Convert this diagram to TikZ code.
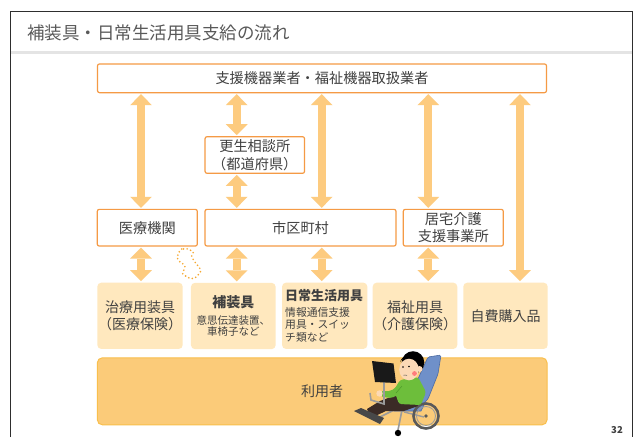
\documentclass[tikz,border=0pt]{standalone}
\usepackage{fontspec}
\setmainfont{Noto Sans CJK JP}
\usetikzlibrary{arrows.meta}

\definecolor{frameln}{HTML}{2E2E2E}
\definecolor{sepband}{HTML}{E4E4E4}
\definecolor{titletx}{HTML}{595959}
\definecolor{bodytx}{HTML}{404040}
\definecolor{orgline}{HTML}{F59A45}
\definecolor{arrowc}{HTML}{FDCB7F}
\definecolor{itemfill}{HTML}{FFE8BE}
\definecolor{userfill}{HTML}{FBCB79}
\definecolor{userline}{HTML}{F9BF4C}
\definecolor{squigc}{HTML}{F6A830}
% illustration colours
\definecolor{chairblue}{HTML}{6F90C9}
\definecolor{chairedge}{HTML}{4C6BA3}
\definecolor{shirt}{HTML}{6DBE3B}
\definecolor{shirtdark}{HTML}{4E9A2A}
\definecolor{skin}{HTML}{FCD9B6}
\definecolor{pants}{HTML}{3B2B26}
\definecolor{metal}{HTML}{9B9B9B}
\definecolor{tyre}{HTML}{5A5A5A}

\tikzset{
  orgbox/.style={draw=orgline, line width=1.2pt, fill=white, rounded corners=2pt,
    inner sep=0pt, outer sep=0pt, text=bodytx, align=center,
    font=\fontsize{14.2}{17.5}\selectfont},
  itembox/.style={fill=itemfill, rounded corners=4pt, inner sep=0pt, outer sep=0pt,
    text=bodytx, align=center, font=\fontsize{14}{16.5}\selectfont,
    minimum height=66.3pt},
  userbox/.style={draw=userline, line width=1pt, fill=userfill, rounded corners=5pt,
    inner sep=0pt, outer sep=0pt, text=bodytx, font=\fontsize{14}{17}\selectfont},
  dbl/.style={draw=arrowc, line width=7.7pt,
    {Triangle[width=21.7pt,length=11pt,line width=0pt]}-{Triangle[width=21.7pt,length=11pt,line width=0pt]},
    shorten <=1.5pt, shorten >=1.5pt},
  squig/.style={draw=squigc, line width=1.8pt, dash pattern=on 0pt off 3.7pt,
    line cap=round},
}

\begin{document}
\begin{tikzpicture}[x=1pt,y=-1pt]
\useasboundingbox (0,0) rectangle (635,437);
\fill[white] (0,0) rectangle (635,437);

% slide frame and title
\fill[sepband] (11,50.5) rectangle (632,54);
\draw[frameln, line width=1.3pt] (10.7,437) -- (10.7,11.2) -- (632.7,11.2) -- (632.7,437);
\node[anchor=west, text=titletx, font=\fontsize{17.5}{20}\selectfont, inner sep=0pt]
  (title) at (27,33) {補装具・日常生活用具支給の流れ};

% organisations
\node[orgbox, minimum width=449pt, minimum height=28.7pt] (top) at (322,78.3)
  {支援機器業者・福祉機器取扱業者};
\node[orgbox, minimum width=99.5pt, minimum height=36.6pt] (kosei) at (254.8,155)
  {更生相談所\\（都道府県）};
\node[orgbox, minimum width=100pt, minimum height=36.7pt] (iryo) at (147.3,227.7)
  {医療機関};
\node[orgbox, minimum width=191pt, minimum height=36.7pt] (shiku) at (300.5,227.7)
  {市区町村};
\node[orgbox, minimum width=100pt, minimum height=36.7pt] (kyotaku) at (453.3,227.7)
  {居宅介護\\支援事業所};

% kinds of equipment
\node[itembox, minimum width=85.4pt] (chiryo) at (140,315.8)
  {治療用装具\\（医療保険）};
\node[itembox, minimum width=84.7pt, font=\fontsize{10.5}{11.7}\selectfont] (hosogu) at (233.3,316)
  {{\bfseries\fontsize{14}{14}\selectfont 補装具}\\[5pt]意思伝達装置、\\車椅子など};
\node[itembox, minimum width=85.3pt, text width=79pt, align=left,
      font=\fontsize{10.8}{12.6}\selectfont] (nichijo) at (324.7,315.8)
  {{\bfseries\fontsize{13}{13}\selectfont 日常生活用具}\\[3pt]情報通信支援\\用具・スイッ\\チ類など};
\node[itembox, minimum width=84.6pt] (fukushi) at (415,315.8)
  {福祉用具\\（介護保険）};
\node[itembox, minimum width=84.4pt] (jihi) at (505.5,315.8)
  {自費購入品};

% user
\node[userbox, minimum width=449.7pt, minimum height=67pt] (user) at (322.2,391.3)
  {利用者};

% arrow columns
\coordinate (a1) at (141,0);
\coordinate (a2) at (236.7,0);
\coordinate (a3) at (321.7,0);
\coordinate (a4) at (428.3,0);
\coordinate (a5) at (520,0);

\draw[dbl] (top.south -| a1) -- (iryo.north -| a1);
\draw[dbl] (top.south -| a2) -- (kosei.north -| a2);
\draw[dbl] (kosei.south -| a2) -- (shiku.north -| a2);
\draw[dbl] (top.south -| a3) -- (shiku.north -| a3);
\draw[dbl] (top.south -| a4) -- (kyotaku.north -| a4);
\draw[dbl] (top.south -| a5) -- (jihi.north -| a5);

\draw[dbl] (iryo.south -| a1) -- (chiryo.north -| a1);
\draw[dbl] (shiku.south -| a2) -- (hosogu.north -| a2);
\draw[dbl] (shiku.south -| a3) -- (nichijo.north -| a3);
\draw[dbl] (kyotaku.south -| a4) -- (fukushi.north -| a4);

% dotted zigzag arrow outline
\draw[squig] (181.7,249) -- (178.3,253) -- (177.3,258) -- (179.3,261.3) -- (182.7,263.7)
  -- (185,266.3) -- (184,269.7) -- (182.7,273.7) -- (186,276.3) -- (190.7,278.7)
  -- (195,278) -- (198.3,274.7) -- (200.7,271.3) -- (199.3,267) -- (196,263.7)
  -- (193.3,259.7) -- (191.7,255.7) -- (193.3,252.3) -- (190.7,250.3) -- (186.7,248.7) -- cycle;

% person in a reclining wheelchair
\begin{scope}
  % backrest
  \filldraw[fill=chairblue, draw=chairedge, line width=0.6pt, rounded corners=1.5pt]
    (428,357) -- (441,355) -- (438,374) -- (428,399) -- (415,412) -- (405,407) -- (417,381) -- cycle;
  % seat
  \filldraw[fill=chairblue, draw=chairedge, line width=0.6pt]
    (396,403) -- (425,403) -- (421,411) -- (394,411) -- cycle;
  % frame
  \draw[metal, line width=1.6pt] (402,410) -- (398,430);
  \draw[metal, line width=1.6pt] (396,409) -- (378,418);
  \draw[metal, line width=1.4pt] (404,412) -- (424,417);
  % big wheel
  \draw[tyre, line width=2.6pt] (426,416) circle (12.5);
  \draw[metal, line width=0.8pt] (426,416) circle (9.5);
  \fill[tyre] (426,416) circle (1.8);
  % caster
  \fill[black] (398,433) circle (3.2);
  % legs
  \fill[pants] (414,397) -- (396,395) -- (380,401) -- (367,409) -- (371,418) -- (386,411) -- (404,411) -- (418,406) -- cycle;
  % footrest
  \fill[tyre!80!black] (354,411) -- (361,408) -- (384,418) -- (380,424) -- cycle;
  % body and arm
  \fill[shirt, rounded corners=2.5pt] (400,380) -- (418,377) -- (426,392) -- (421,405) -- (399,404) -- (394,390) -- cycle;
  \fill[shirt, rounded corners=2pt] (401,383) -- (408,389) -- (392,398) -- (381,397) -- (381,391) -- (391,391) -- cycle;
  \draw[shirtdark, line width=0.5pt] (402,386) -- (396,393);
  \fill[skin] (379.5,393.5) circle (3.2);
  % head
  \fill[black] (413,362.5) circle (11.3);
  \fill[skin] (409,369.5) ellipse (9.8 and 10.8);
  \fill[black] (400,362) .. controls (404,355) and (414,356) .. (420,362) -- (418,358) .. controls (412,353) and (403,354) .. cycle;
  \fill[skin] (419.5,369) circle (3);
  \fill[red!35!pink] (414.5,373.5) circle (2.4);
  \fill[black] (403,367) circle (0.9);
  \fill[black] (409,366.5) circle (0.9);
  \draw[black!70, line width=0.5pt] (403.5,375) -- (407,375.3);
  % monitor on its arm
  \draw[metal, line width=1.6pt] (384,382) -- (384,404) -- (371,400) -- (370,393);
  \fill[black!90] (372,361) -- (393.5,363.5) -- (396,383) -- (375,382) -- cycle;
\end{scope}

% page number
\node[text=bodytx, font=\bfseries\fontsize{9.5}{10}\selectfont, inner sep=0pt] (pnum) at (617,430) {32};
\end{tikzpicture}
\end{document}
